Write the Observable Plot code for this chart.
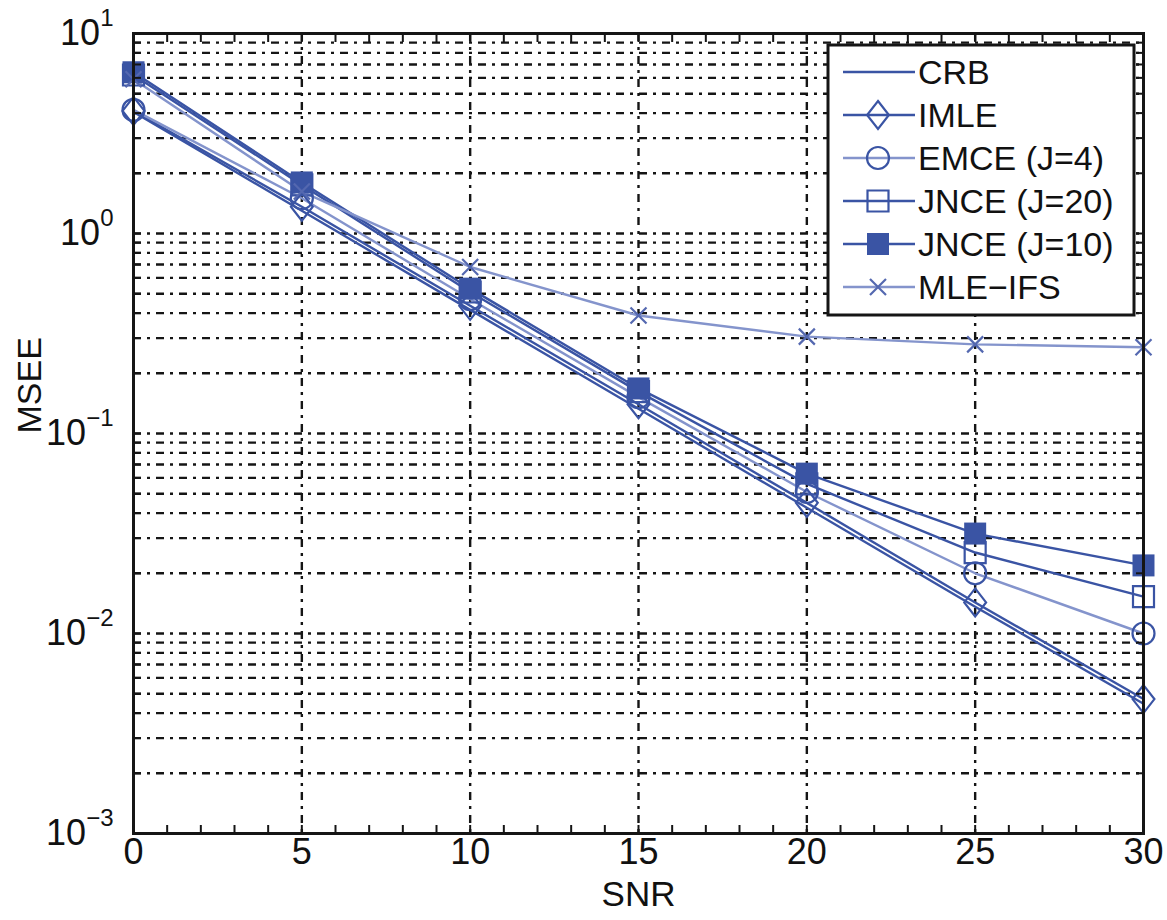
<!DOCTYPE html>
<html><head><meta charset="utf-8">
<script src="https://cdn.jsdelivr.net/npm/d3@7"></script>
<script src="https://cdn.jsdelivr.net/npm/@observablehq/plot@0.6"></script>
<style>
body{margin:0;background:#fff}
#chart{width:1167px;height:920px}
</style>
</head><body><div id="chart"></div>
<script>
// ---- data ----
const snr = [0, 5, 10, 15, 20, 25, 30];
const seriesNames = ["CRB", "IMLE", "EMCE (J=4)", "JNCE (J=20)", "JNCE (J=10)", "MLE\u2212IFS"];
const crb    = [4.05, 1.30, 0.415, 0.133, 0.0425, 0.0136, 0.00445];
const imle   = [4.10, 1.36, 0.435, 0.140, 0.0450, 0.0143, 0.0047];
const emce   = [4.15, 1.50, 0.470, 0.152, 0.0510, 0.0200, 0.0100];
const jnce20 = [6.20, 1.75, 0.510, 0.162, 0.0560, 0.0254, 0.0153];
const jnce10 = [6.40, 1.80, 0.530, 0.168, 0.0630, 0.0316, 0.0219];
const mleifs = [5.90, 1.62, 0.680, 0.389, 0.305, 0.279, 0.270];
const xTicks = [0, 5, 10, 15, 20, 25, 30];
const yMajor = [1e-3, 1e-2, 1e-1, 1, 10];
const yExp = ["\u22123", "\u22122", "\u22121", "0", "1"];

const DARK = "#3a54a4", LIGHT = "#8494cc";
const FONT = "'Liberation Sans', Arial, Helvetica, sans-serif";

// ---- marker symbols ----
function sym(fn) { return { draw(ctx, size) { fn(ctx, Math.sqrt(size / Math.PI)); } }; }
const diamond = sym((c, r) => { c.moveTo(0, -r); c.lineTo(0.78 * r, 0); c.lineTo(0, r); c.lineTo(-0.78 * r, 0); c.closePath(); });
const circle = sym((c, r) => { c.moveTo(r, 0); c.arc(0, 0, r, 0, 2 * Math.PI); });
const square = sym((c, r) => { c.rect(-r, -r, 2 * r, 2 * r); });
const times = sym((c, r) => { c.moveTo(-r, -r); c.lineTo(r, r); c.moveTo(r, -r); c.lineTo(-r, r); });

const series = [
  {name: seriesNames[0], values: crb,    line: DARK,  symbol: null},
  {name: seriesNames[1], values: imle,   line: DARK,  symbol: diamond, r: 14, fill: "none"},
  {name: seriesNames[2], values: emce,   line: LIGHT, symbol: circle,  r: 11, fill: "none"},
  {name: seriesNames[3], values: jnce20, line: DARK,  symbol: square,  r: 10.5, fill: "none"},
  {name: seriesNames[4], values: jnce10, line: DARK,  symbol: square,  r: 11, fill: DARK},
  {name: seriesNames[5], values: mleifs, line: LIGHT, symbol: times,   r: 8, fill: "none", mstroke: "#5468b0"}
];
const rows = s => snr.map((x, i) => ({snr: x, v: s.values[i]}));

// tick positions
const yAll = [];
for (let d = -3; d <= 0; d++) for (let k = 1; k <= 9; k++) yAll.push(k * Math.pow(10, d));
yAll.push(10);
const xMinor = d3.range(0, 31);

const gridStyle = {stroke: "#151515", strokeOpacity: 1, strokeWidth: 2.4, strokeDasharray: "8,6,3,6"};

const marks = [
  Plot.gridY(yAll, gridStyle),
  Plot.gridX([5, 10, 15, 20, 25], gridStyle),
  ...series.map(s => Plot.line(rows(s), {x: "snr", y: "v", stroke: s.line, strokeWidth: 2.4})),
  ...series.filter(s => s.symbol).map(s => Plot.dot(rows(s), {
    x: "snr", y: "v", symbol: s.symbol, r: s.r,
    fill: s.fill, fillOpacity: 1,
    stroke: s.fill === "none" ? (s.mstroke || DARK) : "none", strokeWidth: 2.2
  })),
  Plot.frame({stroke: "#151515", strokeWidth: 3}),
  // tick labels
  Plot.axisX(xTicks, {anchor: "bottom", tickSize: 0, tickPadding: 5, fontSize: 36, label: null}),
  Plot.axisY(yMajor, {anchor: "left", tickSize: 0, tickPadding: 20, fontSize: 36, label: null,
    tickFormat: d => "10^" + yExp[yMajor.indexOf(d)]}),
  // inward ticks on all sides
  Plot.axisX(xMinor, {anchor: "bottom", tickSize: 8, dy: -8, tickFormat: () => "", label: null, stroke: "#151515", strokeWidth: 2}),
  Plot.axisX(xMinor, {anchor: "top", tickSize: 8, dy: 8, tickFormat: () => "", label: null, stroke: "#151515", strokeWidth: 2}),
  Plot.axisY(yAll, {anchor: "left", tickSize: 8, dx: 8, tickFormat: () => "", label: null, stroke: "#151515", strokeWidth: 2}),
  Plot.axisY(yAll, {anchor: "right", tickSize: 8, dx: -8, tickFormat: () => "", label: null, stroke: "#151515", strokeWidth: 2}),
  // axis titles
  Plot.text(["SNR"], {frameAnchor: "bottom", dy: 72, fontSize: 35, text: d => d, fill: "#111"}),
  Plot.text(["MSEE"], {frameAnchor: "left", dx: -103, rotate: -90, fontSize: 34, text: d => d, fill: "#111"})
];

const chart = Plot.plot({
  width: 1167, height: 920,
  marginLeft: 133, marginRight: 24, marginTop: 33, marginBottom: 87,
  style: {fontFamily: FONT, color: "#111", background: "#fff", overflow: "visible"},
  x: {domain: [0, 30], label: null},
  y: {type: "log", domain: [1e-3, 10], label: null},
  marks
});
document.getElementById("chart").appendChild(chart);

// superscript exponents on y tick labels
d3.select(chart).selectAll("text").each(function() {
  const t = this.textContent;
  if (t.startsWith("10^")) {
    const e = t.slice(3);
    const sel = d3.select(this);
    sel.text("10");
    sel.append("tspan").attr("dy", -19).attr("font-size", 24).text(e);
  }
});

// legend (layout only; symbols reuse the plot's marker definitions)
const svg = d3.select(chart);
const lg = svg.append("g").attr("font-family", FONT).attr("text-anchor", "start");
lg.append("rect").attr("x", 828).attr("y", 45).attr("width", 306).attr("height", 270)
  .attr("fill", "#fff").attr("stroke", "#151515").attr("stroke-width", 3);
series.forEach((s, i) => {
  const y = 72 + i * 43;
  lg.append("line").attr("x1", 843).attr("x2", 915).attr("y1", y).attr("y2", y)
    .attr("stroke", s.line).attr("stroke-width", 2.6);
  if (s.symbol) {
    const p = d3.path();
    s.symbol.draw(p, s.r * s.r * Math.PI);
    lg.append("path").attr("d", p.toString()).attr("transform", `translate(878,${y})`)
      .attr("fill", s.fill).attr("stroke", s.fill === "none" ? (s.mstroke || DARK) : "none")
      .attr("stroke-width", 2.2);
  }
  lg.append("text").attr("x", 918).attr("y", y).attr("dy", "0.36em")
    .attr("text-anchor", "start").attr("font-size", 34).attr("fill", "#111").text(s.name);
});
</script>
</body></html>
